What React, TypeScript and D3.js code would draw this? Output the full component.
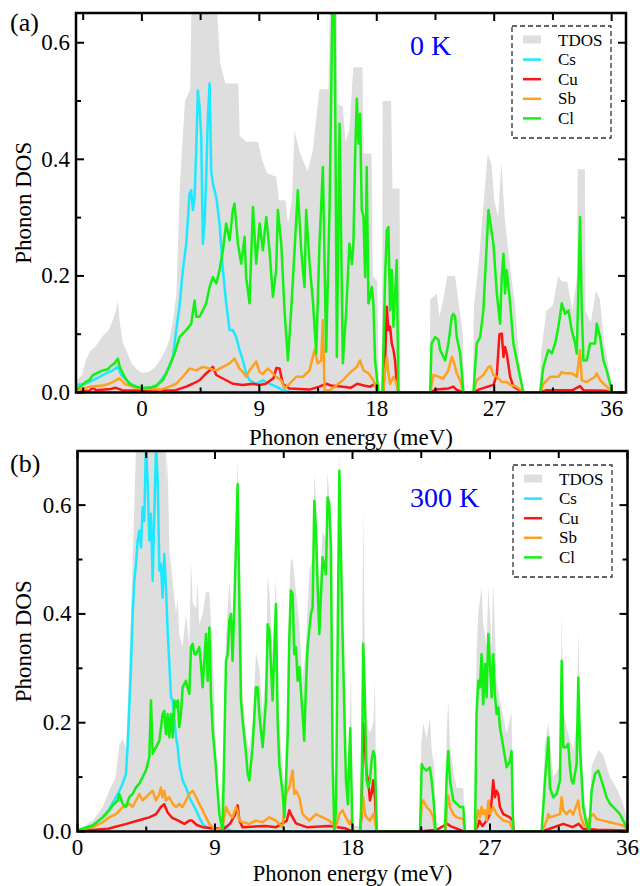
import React from 'react';
import * as d3 from 'd3';

type P = [number, number];

// ---------- Panel (a): 0 K ----------
const tdosA: P[] = [[-5.05,0.02],[-4.6,0.03],[-4.3,0.055],[-4.0,0.07],[-3.6,0.078],[-3.2,0.09],[-2.9,0.1],[-2.6,0.105],[-2.3,0.12],[-2.0,0.14],[-1.84,0.158],[-1.7,0.12],[-1.45,0.085],[-1.15,0.07],[-0.8,0.05],[-0.4,0.04],[0,0.034],[0.5,0.035],[1.0,0.043],[1.4,0.056],[1.8,0.072],[2.1,0.09],[2.4,0.125],[2.65,0.17],[2.9,0.35],[3.3,0.5],[3.7,0.52],[3.8,0.66],[5.75,0.66],[6.0,0.565],[6.4,0.53],[7.4,0.53],[7.5,0.44],[8.0,0.43],[8.3,0.43],[8.9,0.43],[9.2,0.4],[9.6,0.376],[10.3,0.37],[10.5,0.33],[11.0,0.33],[11.2,0.29],[11.5,0.33],[11.7,0.45],[12.0,0.42],[12.3,0.4],[12.7,0.38],[13.1,0.415],[13.6,0.52],[14.3,0.52],[14.4,0.66],[14.95,0.66],[15.0,0.495],[15.4,0.49],[15.6,0.43],[15.9,0.45],[16.2,0.558],[16.9,0.558],[17.0,0.41],[17.6,0.41],[17.7,0.2],[18.05,0.19],[18.15,0.0],[18.4,0.0],[18.45,0.5],[19.1,0.5],[19.2,0.35],[19.75,0.35],[19.8,0],[22.05,0],[22.1,0.16],[22.6,0.17],[22.8,0.13],[23.1,0.16],[23.4,0.2],[24.0,0.2],[24.3,0.15],[24.6,0.1],[24.7,0],[25.35,0],[25.45,0.15],[25.8,0.22],[26.1,0.3],[26.5,0.41],[26.8,0.39],[27.0,0.33],[27.3,0.3],[27.55,0.395],[27.8,0.3],[28.0,0.26],[28.3,0.2],[28.6,0.15],[28.9,0.06],[29.2,0.01],[29.3,0],[30.45,0],[30.6,0.07],[31.0,0.14],[31.5,0.15],[31.9,0.2],[32.2,0.19],[32.6,0.19],[33.0,0.14],[33.35,0.2],[33.4,0.383],[33.95,0.383],[34.0,0.14],[34.4,0.12],[34.8,0.175],[35.1,0.16],[35.4,0.09],[35.8,0.04],[36.0,0.01],[36.1,0],[37.2,0]];

const csA: P[] = [[-5.05,0.013],[-4.3,0.015],[-3.5,0.024],[-2.73,0.033],[-2.22,0.038],[-1.84,0.044],[-1.58,0.03],[-1.2,0.021],[-0.7,0.013],[0,0.007],[1.1,0.01],[1.86,0.033],[2.38,0.061],[2.63,0.107],[2.89,0.15],[3.14,0.21],[3.4,0.255],[3.65,0.341],[3.78,0.347],[3.91,0.313],[4.04,0.335],[4.16,0.415],[4.29,0.518],[4.42,0.49],[4.55,0.438],[4.67,0.255],[4.8,0.29],[4.93,0.37],[5.06,0.473],[5.19,0.53],[5.31,0.381],[5.44,0.358],[5.7,0.335],[5.95,0.29],[6.21,0.21],[6.46,0.153],[6.72,0.107],[6.97,0.107],[7.23,0.095],[7.48,0.073],[7.74,0.055],[7.99,0.033],[8.25,0.021],[8.76,0.015],[9.27,0.021],[9.78,0.015],[10.29,0.01],[10.8,0.004],[11.5,0.0],[37.2,0]];

const cuA: P[] = [[-5.05,0.002],[-4.0,0.003],[-3.8,0.008],[-3.5,0.004],[-2.4,0.006],[-2.0,0.008],[-1.5,0.004],[0,0.003],[2.6,0.004],[3.4,0.01],[3.9,0.015],[4.42,0.021],[4.8,0.03],[5.19,0.038],[5.44,0.044],[5.7,0.03],[5.95,0.027],[6.46,0.021],[6.97,0.015],[7.74,0.013],[8.5,0.015],[9.0,0.013],[9.5,0.015],[10.1,0.025],[10.3,0.042],[10.55,0.041],[10.8,0.015],[11.3,0.007],[12.85,0.005],[13.6,0.01],[14.12,0.015],[14.5,0.012],[15.4,0.01],[16.0,0.008],[16.5,0.015],[17.0,0.012],[17.5,0.01],[17.87,0.015],[18.1,0.0],[18.5,0.0],[18.64,0.055],[18.77,0.147],[18.89,0.107],[19.02,0.113],[19.15,0.084],[19.28,0.073],[19.4,0.055],[19.53,0.015],[19.66,0],[22.1,0],[22.5,0.005],[23.5,0.007],[23.87,0.01],[24.1,0.005],[24.64,0],[25.41,0],[25.8,0.005],[26.5,0.01],[26.94,0.013],[27.2,0.03],[27.4,0.1],[27.58,0.101],[27.71,0.061],[27.83,0.078],[27.96,0.067],[28.22,0.027],[28.47,0.01],[29.0,0.003],[29.24,0],[30.52,0],[31.0,0.004],[33.0,0.004],[33.58,0.011],[33.84,0.004],[35.5,0.003],[36.05,0],[37.2,0]];

const sbA: P[] = [[-5.05,0.003],[-4.0,0.01],[-3.0,0.012],[-2.5,0.015],[-2.0,0.021],[-1.7,0.024],[-1.33,0.015],[-0.7,0.01],[0,0.007],[1.4,0.005],[2.1,0.01],[2.63,0.015],[3.14,0.027],[3.65,0.041],[4.16,0.038],[4.67,0.044],[5.19,0.041],[5.7,0.038],[6.21,0.044],[6.72,0.05],[7.1,0.058],[7.48,0.041],[7.74,0.035],[7.99,0.027],[8.25,0.038],[8.76,0.053],[9.02,0.035],[9.27,0.032],[9.65,0.041],[10.04,0.033],[10.29,0.027],[10.68,0.021],[10.93,0.007],[11.32,0.015],[11.83,0.027],[12.34,0.027],[12.85,0.038],[13.23,0.073],[13.48,0.05],[13.74,0.055],[13.87,0.124],[14.0,0.004],[14.38,0.004],[14.76,0.01],[15.4,0.021],[15.9,0.033],[16.47,0.044],[16.72,0.055],[16.98,0.038],[17.36,0.033],[17.74,0.021],[18.0,0.004],[18.13,0],[18.5,0],[18.64,0.038],[18.77,0.061],[18.89,0.033],[19.02,0.015],[19.28,0.027],[19.53,0.015],[19.66,0],[22.09,0],[22.35,0.03],[22.73,0.027],[23.1,0.024],[23.49,0.038],[23.75,0.061],[23.87,0.055],[24.13,0.033],[24.39,0.021],[24.64,0],[25.41,0],[25.66,0.021],[26.17,0.03],[26.56,0.044],[26.7,0.045],[26.94,0.03],[27.2,0.027],[27.58,0.018],[27.96,0.018],[28.22,0.013],[28.73,0.01],[29.24,0],[30.52,0],[30.77,0.015],[31.3,0.027],[31.92,0.027],[32.18,0.035],[32.43,0.033],[32.94,0.033],[33.33,0.027],[33.58,0.073],[33.71,0.021],[34.09,0.018],[34.73,0.027],[34.86,0.033],[35.11,0.021],[35.62,0.01],[36.05,0],[37.2,0]];

const clA: P[] = [[-5.05,0.004],[-4.3,0.018],[-4.0,0.022],[-3.75,0.03],[-3.3,0.035],[-3.0,0.038],[-2.6,0.04],[-2.4,0.045],[-2.1,0.05],[-1.84,0.058],[-1.7,0.044],[-1.33,0.027],[-0.95,0.015],[-0.5,0.01],[0,0.008],[0.6,0.008],[1.1,0.012],[1.6,0.021],[2.1,0.044],[2.5,0.067],[2.89,0.095],[3.1,0.1],[3.4,0.107],[3.78,0.118],[4.04,0.158],[4.16,0.13],[4.42,0.13],[4.67,0.141],[4.93,0.153],[5.19,0.181],[5.44,0.198],[5.7,0.187],[5.95,0.21],[6.21,0.244],[6.46,0.29],[6.72,0.261],[6.97,0.313],[7.1,0.324],[7.36,0.255],[7.61,0.221],[7.87,0.267],[7.99,0.198],[8.25,0.153],[8.51,0.318],[8.76,0.221],[9.02,0.29],[9.27,0.244],[9.53,0.301],[9.78,0.244],[10.04,0.164],[10.29,0.21],[10.42,0.313],[10.68,0.255],[10.93,0.141],[11.19,0.055],[11.44,0.141],[11.7,0.244],[11.95,0.347],[12.21,0.244],[12.46,0.181],[12.59,0.313],[12.85,0.221],[13.1,0.158],[13.36,0.067],[13.61,0.255],[13.87,0.387],[14.12,0.07],[14.38,0.313],[14.6,0.66],[14.76,0.66],[14.84,0.42],[14.94,0.061],[15.15,0.461],[15.4,0.05],[15.66,0.141],[15.9,0.255],[16.1,0.22],[16.21,0.255],[16.34,0.404],[16.47,0.504],[16.6,0.427],[16.72,0.478],[16.85,0.313],[16.98,0.301],[17.11,0.198],[17.23,0.387],[17.36,0.153],[17.49,0.164],[17.62,0.181],[17.74,0.153],[17.87,0.055],[18.13,0.0],[18.43,0.0],[18.64,0.198],[18.77,0.278],[18.89,0.284],[19.02,0.141],[19.15,0.21],[19.28,0.113],[19.53,0.227],[19.66,0.0],[22.09,0.0],[22.2,0.084],[22.47,0.095],[22.73,0.09],[22.85,0.073],[23.24,0.055],[23.49,0.084],[23.75,0.13],[23.87,0.135],[24.0,0.13],[24.13,0.095],[24.39,0.067],[24.64,0.0],[25.41,0],[25.66,0.084],[25.92,0.095],[26.17,0.141],[26.43,0.255],[26.56,0.313],[26.68,0.295],[26.94,0.255],[27.2,0.17],[27.45,0.118],[27.58,0.198],[27.71,0.238],[27.83,0.17],[27.96,0.21],[28.22,0.153],[28.47,0.084],[28.73,0.055],[28.98,0.027],[29.24,0.0],[30.52,0],[30.77,0.044],[31.15,0.073],[31.41,0.067],[31.67,0.084],[31.92,0.113],[32.18,0.153],[32.43,0.135],[32.69,0.141],[32.94,0.107],[33.2,0.084],[33.33,0.067],[33.58,0.301],[33.71,0.141],[33.84,0.055],[34.09,0.055],[34.35,0.084],[34.73,0.084],[34.86,0.118],[35.11,0.095],[35.37,0.055],[35.62,0.038],[35.88,0.015],[36.05,0],[37.2,0]];

// ---------- Panel (b): 300 K ----------
const tdosB: P[] = [[0,0.005],[0.5,0.01],[1.0,0.02],[1.65,0.045],[2.08,0.075],[2.5,0.1],[2.74,0.16],[2.96,0.17],[3.17,0.155],[3.28,0.22],[3.39,0.32],[3.5,0.4],[3.61,0.5],[3.72,0.6],[3.83,0.71],[5.79,0.71],[5.85,0.63],[5.9,0.69],[6.01,0.52],[6.23,0.46],[6.45,0.4],[6.56,0.43],[6.66,0.36],[6.88,0.34],[7.1,0.4],[7.32,0.34],[7.43,0.5],[7.54,0.42],[7.76,0.41],[7.86,0.46],[7.97,0.38],[8.19,0.4],[8.41,0.44],[8.63,0.44],[8.85,0.33],[9.06,0.16],[9.28,0.04],[9.5,0.09],[9.72,0.36],[9.94,0.46],[10.15,0.38],[10.37,0.5],[10.48,0.69],[10.59,0.56],[10.81,0.25],[11.03,0.18],[11.25,0.15],[11.46,0.2],[11.68,0.33],[11.9,0.3],[12.12,0.22],[12.34,0.3],[12.45,0.47],[12.56,0.44],[12.77,0.33],[12.99,0.47],[13.1,0.28],[13.21,0.2],[13.43,0.12],[13.54,0.08],[13.65,0.17],[13.86,0.44],[13.97,0.5],[14.08,0.5],[14.3,0.44],[14.52,0.38],[14.73,0.28],[14.95,0.34],[15.17,0.48],[15.39,0.5],[15.5,0.66],[15.61,0.6],[15.83,0.43],[16.04,0.55],[16.26,0.54],[16.37,0.66],[16.59,0.57],[16.7,0.2],[16.81,0.02],[16.92,0.1],[17.14,0.7],[17.35,0.42],[17.57,0.15],[17.7,0.1],[17.85,0.24],[17.9,0.3],[18.0,0.01],[18.5,0.01],[18.59,0.14],[18.7,0.595],[18.81,0.32],[18.92,0.2],[19.14,0.18],[19.36,0.2],[19.47,0.28],[19.58,0.0],[22.42,0],[22.5,0.16],[22.63,0.2],[22.85,0.17],[23.07,0.21],[23.18,0.15],[23.35,0.12],[23.45,0],[24.05,0],[24.17,0.19],[24.27,0.24],[24.38,0.16],[24.6,0.11],[24.82,0.08],[25.25,0.08],[25.36,0],[26.02,0],[26.12,0.33],[26.23,0.4],[26.45,0.45],[26.56,0.38],[26.78,0.34],[26.89,0.45],[27.11,0.34],[27.21,0.46],[27.43,0.28],[27.65,0.24],[28.09,0.18],[28.41,0.22],[28.52,0],[30.38,0],[30.6,0.16],[30.82,0.2],[31.14,0.1],[31.58,0.12],[31.69,0.4],[31.8,0.22],[32.12,0.18],[32.45,0.15],[32.67,0.2],[32.78,0.37],[32.89,0.22],[33.1,0.09],[33.32,0.03],[33.5,0.02],[33.65,0.12],[34.09,0.15],[34.41,0.14],[34.85,0.1],[35.28,0.08],[35.72,0.05],[36,0.02]];

const csB: P[] = [[0,0.002],[1.0,0.011],[1.65,0.026],[2.08,0.041],[2.52,0.063],[2.74,0.075],[2.96,0.088],[3.17,0.106],[3.28,0.155],[3.39,0.228],[3.5,0.302],[3.61,0.4],[3.72,0.461],[3.83,0.492],[3.94,0.535],[4.05,0.553],[4.16,0.522],[4.26,0.596],[4.37,0.571],[4.48,0.71],[4.59,0.645],[4.7,0.535],[4.81,0.584],[4.92,0.461],[5.03,0.584],[5.14,0.71],[5.25,0.645],[5.36,0.48],[5.46,0.492],[5.57,0.43],[5.68,0.51],[5.79,0.449],[5.9,0.369],[6.01,0.308],[6.12,0.247],[6.23,0.241],[6.45,0.173],[6.56,0.155],[6.66,0.124],[6.88,0.094],[7.1,0.081],[7.32,0.063],[7.54,0.051],[7.76,0.039],[7.97,0.026],[8.19,0.014],[8.41,0.008],[8.85,0.002],[9.3,0.0],[9.6,0.01],[9.8,0.004],[10.2,0.0],[36,0]];

const cuB: P[] = [[0,0.001],[2.0,0.005],[3.2,0.014],[4.3,0.023],[4.7,0.026],[5.14,0.032],[5.46,0.045],[5.68,0.05],[5.9,0.035],[6.2,0.025],[6.6,0.02],[7.0,0.014],[7.32,0.02],[7.5,0.02],[7.8,0.012],[8.2,0.008],[9.0,0.006],[9.6,0.005],[10.0,0.015],[10.3,0.03],[10.48,0.048],[10.6,0.02],[10.8,0.008],[12.3,0.01],[13.0,0.008],[13.7,0.02],[13.86,0.039],[14.0,0.03],[14.3,0.015],[15.0,0.008],[16.5,0.01],[17.5,0.006],[18.0,0.0],[18.5,0.0],[18.59,0.03],[18.65,0.14],[18.7,0.198],[18.81,0.155],[18.92,0.106],[19.03,0.094],[19.14,0.057],[19.25,0.069],[19.36,0.094],[19.47,0.063],[19.58,0.0],[22.4,0],[23.5,0.003],[24.2,0.014],[24.4,0.01],[25.3,0],[26.0,0],[26.2,0.01],[26.3,0.02],[26.5,0.01],[26.78,0.02],[27.0,0.032],[27.11,0.057],[27.21,0.094],[27.32,0.063],[27.43,0.075],[27.54,0.069],[27.65,0.045],[27.87,0.032],[28.3,0.026],[28.5,0.02],[28.55,0],[30.4,0],[31.0,0.006],[31.8,0.014],[32.4,0.008],[32.8,0.014],[33.1,0.005],[34.0,0.003],[36,0.002]];

const sbB: P[] = [[0,0.002],[1.0,0.008],[1.65,0.017],[2.08,0.026],[2.52,0.032],[2.96,0.045],[3.17,0.048],[3.39,0.051],[3.61,0.045],[3.83,0.057],[4.05,0.069],[4.26,0.057],[4.48,0.063],[4.7,0.069],[4.92,0.075],[5.14,0.057],[5.36,0.069],[5.46,0.081],[5.57,0.063],[5.68,0.075],[5.79,0.057],[6.01,0.063],[6.23,0.051],[6.45,0.045],[6.66,0.051],[6.88,0.045],[7.1,0.057],[7.32,0.069],[7.54,0.075],[7.65,0.069],[7.76,0.063],[7.97,0.051],[8.19,0.039],[8.41,0.026],[8.63,0.014],[8.85,0.008],[9.06,0.002],[9.5,0.008],[9.72,0.045],[9.94,0.032],[10.15,0.026],[10.37,0.045],[10.48,0.039],[10.59,0.02],[10.81,0.017],[11.25,0.014],[11.68,0.02],[12.12,0.017],[12.56,0.026],[12.99,0.02],[13.21,0.014],[13.43,0.008],[13.54,0.045],[13.65,0.069],[13.86,0.081],[14.08,0.112],[14.19,0.069],[14.3,0.075],[14.52,0.063],[14.73,0.032],[14.95,0.026],[15.17,0.02],[15.61,0.032],[16.04,0.026],[16.48,0.02],[16.7,0.014],[16.92,0.008],[17.14,0.032],[17.35,0.039],[17.57,0.026],[17.79,0.014],[17.9,0.02],[18.05,0.0],[18.5,0.0],[18.59,0.032],[18.7,0.063],[18.81,0.032],[18.92,0.026],[19.14,0.02],[19.25,0.026],[19.36,0.032],[19.47,0.02],[19.58,0.0],[22.42,0],[22.53,0.051],[22.63,0.057],[22.85,0.045],[23.07,0.039],[23.29,0.026],[23.4,0],[24.1,0],[24.17,0.045],[24.27,0.066],[24.38,0.045],[24.6,0.032],[24.82,0.026],[25.25,0.023],[25.36,0],[26.02,0],[26.12,0.02],[26.23,0.039],[26.34,0.026],[26.45,0.045],[26.56,0.032],[26.67,0.039],[26.78,0.02],[26.89,0.057],[27.0,0.032],[27.21,0.045],[27.43,0.032],[27.65,0.026],[27.87,0.02],[28.3,0.017],[28.52,0.0],[30.4,0],[30.71,0.02],[30.82,0.032],[30.92,0.026],[31.58,0.032],[31.69,0.063],[31.8,0.039],[32.01,0.032],[32.23,0.039],[32.45,0.032],[32.78,0.057],[32.89,0.032],[33.1,0.014],[33.32,0.008],[33.54,0.026],[33.76,0.032],[33.98,0.023],[34.41,0.02],[34.85,0.017],[35.28,0.014],[35.72,0.011],[35.94,0.005],[36,0.002]];

const clB: P[] = [[0,0.002],[0.34,0.005],[0.99,0.011],[1.65,0.026],[2.08,0.039],[2.3,0.048],[2.63,0.057],[2.74,0.069],[2.96,0.051],[3.17,0.045],[3.39,0.063],[3.61,0.069],[3.83,0.081],[4.05,0.088],[4.26,0.1],[4.48,0.112],[4.7,0.137],[4.81,0.241],[4.92,0.143],[5.14,0.155],[5.36,0.167],[5.57,0.216],[5.68,0.222],[5.79,0.179],[5.9,0.216],[6.01,0.173],[6.12,0.216],[6.23,0.173],[6.34,0.241],[6.45,0.228],[6.56,0.241],[6.66,0.192],[6.77,0.216],[6.88,0.265],[7.1,0.277],[7.32,0.253],[7.43,0.339],[7.54,0.345],[7.65,0.326],[7.76,0.326],[7.97,0.339],[8.08,0.308],[8.19,0.265],[8.41,0.363],[8.52,0.277],[8.63,0.375],[8.74,0.247],[8.85,0.186],[9.06,0.118],[9.28,0.032],[9.5,0.002],[9.61,0.155],[9.72,0.314],[9.83,0.326],[9.94,0.388],[10.05,0.4],[10.15,0.314],[10.26,0.412],[10.48,0.639],[10.59,0.43],[10.7,0.241],[10.81,0.204],[11.03,0.143],[11.14,0.106],[11.25,0.094],[11.46,0.155],[11.68,0.265],[11.79,0.265],[11.9,0.216],[12.12,0.155],[12.34,0.241],[12.45,0.381],[12.56,0.369],[12.67,0.302],[12.77,0.241],[12.99,0.418],[13.1,0.204],[13.21,0.124],[13.43,0.069],[13.54,0.026],[13.65,0.094],[13.76,0.179],[13.86,0.351],[13.97,0.443],[14.08,0.437],[14.19,0.326],[14.3,0.339],[14.41,0.277],[14.52,0.302],[14.73,0.216],[14.84,0.167],[14.95,0.265],[15.06,0.339],[15.28,0.4],[15.39,0.412],[15.5,0.608],[15.61,0.553],[15.72,0.449],[15.83,0.363],[16.04,0.504],[16.26,0.473],[16.37,0.614],[16.48,0.602],[16.59,0.522],[16.7,0.125],[16.81,0.0],[16.92,0.039],[17.14,0.663],[17.35,0.363],[17.57,0.094],[17.7,0.05],[17.85,0.19],[18.0,0.0],[18.5,0.0],[18.59,0.063],[18.65,0.2],[18.7,0.345],[18.81,0.247],[18.92,0.094],[19.03,0.081],[19.14,0.094],[19.25,0.13],[19.36,0.148],[19.47,0.137],[19.58,0.0],[22.42,0.0],[22.53,0.124],[22.63,0.118],[22.85,0.112],[23.07,0.118],[23.18,0.094],[23.29,0.063],[23.45,0.0],[24.05,0.0],[24.17,0.106],[24.27,0.148],[24.38,0.094],[24.6,0.057],[24.82,0.051],[25.04,0.045],[25.25,0.045],[25.36,0.0],[26.02,0.0],[26.12,0.216],[26.23,0.277],[26.34,0.265],[26.45,0.326],[26.56,0.234],[26.67,0.308],[26.78,0.247],[26.89,0.363],[27.0,0.308],[27.11,0.247],[27.21,0.326],[27.32,0.253],[27.43,0.216],[27.54,0.228],[27.65,0.192],[27.87,0.155],[28.09,0.118],[28.3,0.13],[28.41,0.148],[28.52,0.0],[30.38,0.0],[30.6,0.094],[30.82,0.173],[30.92,0.081],[31.14,0.063],[31.36,0.069],[31.58,0.094],[31.69,0.314],[31.8,0.155],[32.01,0.155],[32.12,0.161],[32.23,0.118],[32.34,0.094],[32.45,0.088],[32.67,0.124],[32.78,0.283],[32.89,0.155],[33.1,0.045],[33.32,0.014],[33.5,0.002],[33.65,0.075],[33.87,0.106],[34.09,0.112],[34.3,0.094],[34.63,0.063],[34.85,0.051],[35.07,0.045],[35.28,0.039],[35.5,0.032],[35.72,0.02],[35.94,0.008],[36,0.002]];

// ---------- Axes / labels ----------
const legendLabels = ['TDOS', 'Cs', 'Cu', 'Sb', 'Cl'];
const lineColors = ['#dedede', '#1ee8ff', '#ff1414', '#ffa01e', '#14f014'];
const xMajorTicks = [0, 9, 18, 27, 36];
const xMinorTicksA = [-4.5, 4.5, 13.5, 22.5, 31.5];
const xMinorTicksB = [4.5, 13.5, 22.5, 31.5];
const yMajorTicks = [0, 0.2, 0.4, 0.6];
const yMinorTicks = [0.1, 0.3, 0.5];
const panelTags = ['(a)', '(b)'];
const tempLabels = ['0 K', '300 K'];
const xTitle = 'Phonon energy (meV)';
const yTitle = 'Phonon DOS';

const FONT = '"Liberation Serif", "Times New Roman", serif';

type PanelProps = {
  id: string;
  left: number; right: number; top: number; bottom: number;
  xDomain: [number, number]; yDomain: [number, number];
  tdos: P[]; lines: P[][];
  xMinor: number[];
  tag: string; tagY: number;
  temp: string; tempY: number;
  legX: number; legY: number; legH: number;
  xTitleY: number; xTitleSize: number;
};

function Panel(p: PanelProps) {
  const x = d3.scaleLinear().domain(p.xDomain).range([p.left, p.right]);
  const y = d3.scaleLinear().domain(p.yDomain).range([p.bottom, p.top]);
  const area = d3.area<P>().x(d => x(d[0])).y0(y(0)).y1(d => y(d[1]));
  const line = d3.line<P>().x(d => x(d[0])).y(d => y(d[1]));
  const majLen = 8, minLen = 5;
  const cx = (p.left + p.right) / 2;
  const cy = (p.top + p.bottom) / 2;
  const rowH = (p.legH - 14) / 5;
  return (
    <g>
      <defs>
        <clipPath id={p.id}>
          <rect x={p.left} y={p.top} width={p.right - p.left} height={p.bottom - p.top} />
        </clipPath>
      </defs>
      <g clipPath={`url(#${p.id})`}>
        <path d={area(p.tdos) || ''} fill={lineColors[0]} stroke="none" />
        {p.lines.map((s, i) => (
          <path key={i} d={line(s) || ''} fill="none" stroke={lineColors[i + 1]} strokeWidth={2.5} strokeLinejoin="round" />
        ))}
      </g>
      {xMajorTicks.map(t => (
        <g key={'xM' + t}>
          <line x1={x(t)} x2={x(t)} y1={p.bottom} y2={p.bottom - majLen} stroke="#000" strokeWidth={2} />
          <line x1={x(t)} x2={x(t)} y1={p.top} y2={p.top + majLen} stroke="#000" strokeWidth={2} />
          <text x={x(t)} y={p.bottom + 23.5} textAnchor="middle" fontFamily={FONT} fontSize={23}>{String(t)}</text>
        </g>
      ))}
      {p.xMinor.map(t => (
        <g key={'xm' + t}>
          <line x1={x(t)} x2={x(t)} y1={p.bottom} y2={p.bottom - minLen} stroke="#000" strokeWidth={2} />
          <line x1={x(t)} x2={x(t)} y1={p.top} y2={p.top + minLen + 2} stroke="#000" strokeWidth={2} />
        </g>
      ))}
      {yMajorTicks.map(t => (
        <g key={'yM' + t}>
          <line x1={p.left} x2={p.left + majLen} y1={y(t)} y2={y(t)} stroke="#000" strokeWidth={2} />
          <line x1={p.right} x2={p.right - majLen} y1={y(t)} y2={y(t)} stroke="#000" strokeWidth={2} />
          <text x={p.left - 6} y={y(t) + 7.5} textAnchor="end" fontFamily={FONT} fontSize={23}>{t.toFixed(1)}</text>
        </g>
      ))}
      {yMinorTicks.map(t => (
        <g key={'ym' + t}>
          <line x1={p.left} x2={p.left + minLen} y1={y(t)} y2={y(t)} stroke="#000" strokeWidth={2} />
          <line x1={p.right} x2={p.right - minLen} y1={y(t)} y2={y(t)} stroke="#000" strokeWidth={2} />
        </g>
      ))}
      <rect x={p.left} y={p.top} width={p.right - p.left} height={p.bottom - p.top} fill="none" stroke="#000" strokeWidth={2.5} />
      <text x={cx} y={p.xTitleY} textAnchor="middle" fontFamily={FONT} fontSize={p.xTitleSize}>{xTitle}</text>
      <text transform={`translate(31,${cy}) rotate(-90)`} textAnchor="middle" fontFamily={FONT} fontSize={23}>{yTitle}</text>
      <text x={10} y={p.tagY} fontFamily={FONT} fontSize={26}>{p.tag}</text>
      <text x={410} y={p.tempY} fontFamily={FONT} fontSize={28} fill="#0000ff">{p.temp}</text>
      <rect x={p.legX} y={p.legY} width={99} height={p.legH} fill="#fff" stroke="#333" strokeWidth={1.3} strokeDasharray="5,3" />
      {legendLabels.map((lab, i) => {
        const by = p.legY + 19.5 + i * rowH;
        return (
          <g key={lab}>
            {i === 0 ? (
              <rect x={p.legX + 11} y={by - 10} width={18} height={8} fill={lineColors[0]} />
            ) : (
              <line x1={p.legX + 11} x2={p.legX + 29} y1={by - 5.5} y2={by - 5.5} stroke={lineColors[i]} strokeWidth={2.5} />
            )}
            <text x={p.legX + 46} y={by} fontFamily={FONT} fontSize={17}>{lab}</text>
          </g>
        );
      })}
    </g>
  );
}

export default function App() {
  return (
    <svg width={640} height={886} style={{ position: 'absolute', left: 0, top: 0, background: '#fff' }}>
      <rect x={0} y={0} width={640} height={886} fill="#fff" />
      <Panel id="clipA" left={76} right={626} top={13} bottom={392.5}
        xDomain={[-5.05, 37.1]} yDomain={[0, 0.651]}
        tdos={tdosA} lines={[csA, cuA, sbA, clA]} xMinor={xMinorTicksA}
        tag={panelTags[0]} tagY={31} temp={tempLabels[0]} tempY={55}
        legX={512} legY={26} legH={112} xTitleY={445} xTitleSize={23} />
      <Panel id="clipB" left={77.5} right={627.5} top={451} bottom={831.5}
        xDomain={[0, 36]} yDomain={[0, 0.6995]}
        tdos={tdosB} lines={[csB, cuB, sbB, clB]} xMinor={xMinorTicksB}
        tag={panelTags[1]} tagY={472} temp={tempLabels[1]} tempY={507}
        legX={513} legY={465} legH={112} xTitleY={880.5} xTitleSize={22.5} />
    </svg>
  );
}
